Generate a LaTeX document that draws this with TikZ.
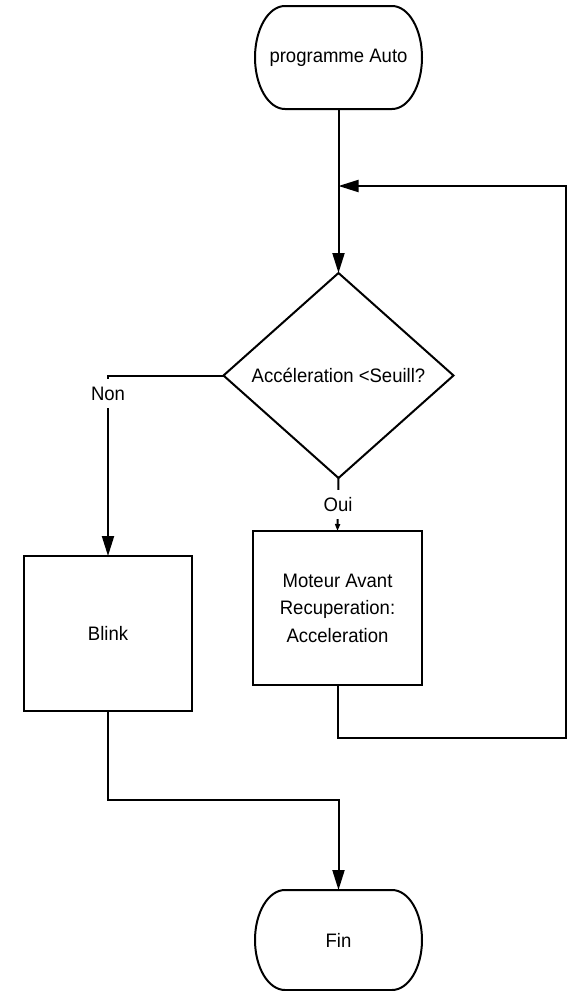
\documentclass[tikz,border=0pt]{standalone}
\usepackage{fontspec}
\setmainfont[FakeStretch=0.95]{Liberation Sans}
\usetikzlibrary{shapes.geometric,arrows.meta}
\newcommand\termoutline[2]{%
  \draw ([xshift=30pt]#1.north west) -- ([xshift=-30pt]#1.north east)
    arc[start angle=90, end angle=-90, x radius=30pt, y radius=#2]
    -- ([xshift=30pt]#1.south west)
    arc[start angle=270, end angle=90, x radius=30pt, y radius=#2] -- cycle;}
\begin{document}
\begin{tikzpicture}[x=1pt,y=-1pt,
  line width=2pt,
  every node/.style={font=\fontsize{19.5}{27.5}\selectfont, outer sep=0pt},
  termbox/.style={minimum width=167pt, minimum height=103pt, inner sep=0pt},
  procbox/.style={draw, rectangle, minimum width=169pt, minimum height=154pt, align=center, inner sep=0pt},
  decbox/.style={draw, diamond, minimum width=230pt, minimum height=205pt, inner sep=0pt},
  conn/.style={-{Triangle[length=20pt,width=12pt]}},
  smallconn/.style={-{Triangle[length=7pt,width=5pt]}},
  lbl/.style={fill=white, inner sep=2pt, minimum height=29pt},
]
\useasboundingbox (0,0) rectangle (568,991);

\node[termbox] (s) at (338.5,57.5) {programme Auto};
\termoutline{s}{51.5pt}
\node[decbox] (d) at (338.5,375.5) {Accéleration <Seuill?};
\node[procbox] (m) at (337.5,608) {Moteur Avant\\Recuperation:\\Acceleration};
\node[procbox, minimum width=168pt, minimum height=155pt] (b) at (108,633.5) {Blink};
\node[termbox, minimum height=100pt] (f) at (338.5,940) {Fin};
\termoutline{f}{50pt}

\coordinate (j) at (338.5,186);
\coordinate (r1) at (566,738);

\draw[conn] (s.south) -- (d.north);
\draw[conn] (m.south) |- (r1) |- (j);
\draw[conn] (d.west) -| node[lbl, pos=0.55]{Non} (b.north);
\draw[smallconn] (d.south) -- node[lbl]{Oui} (m.north);
\draw[conn] (b.south) -- ++(0,89) -| (f.north);
\end{tikzpicture}
\end{document}
